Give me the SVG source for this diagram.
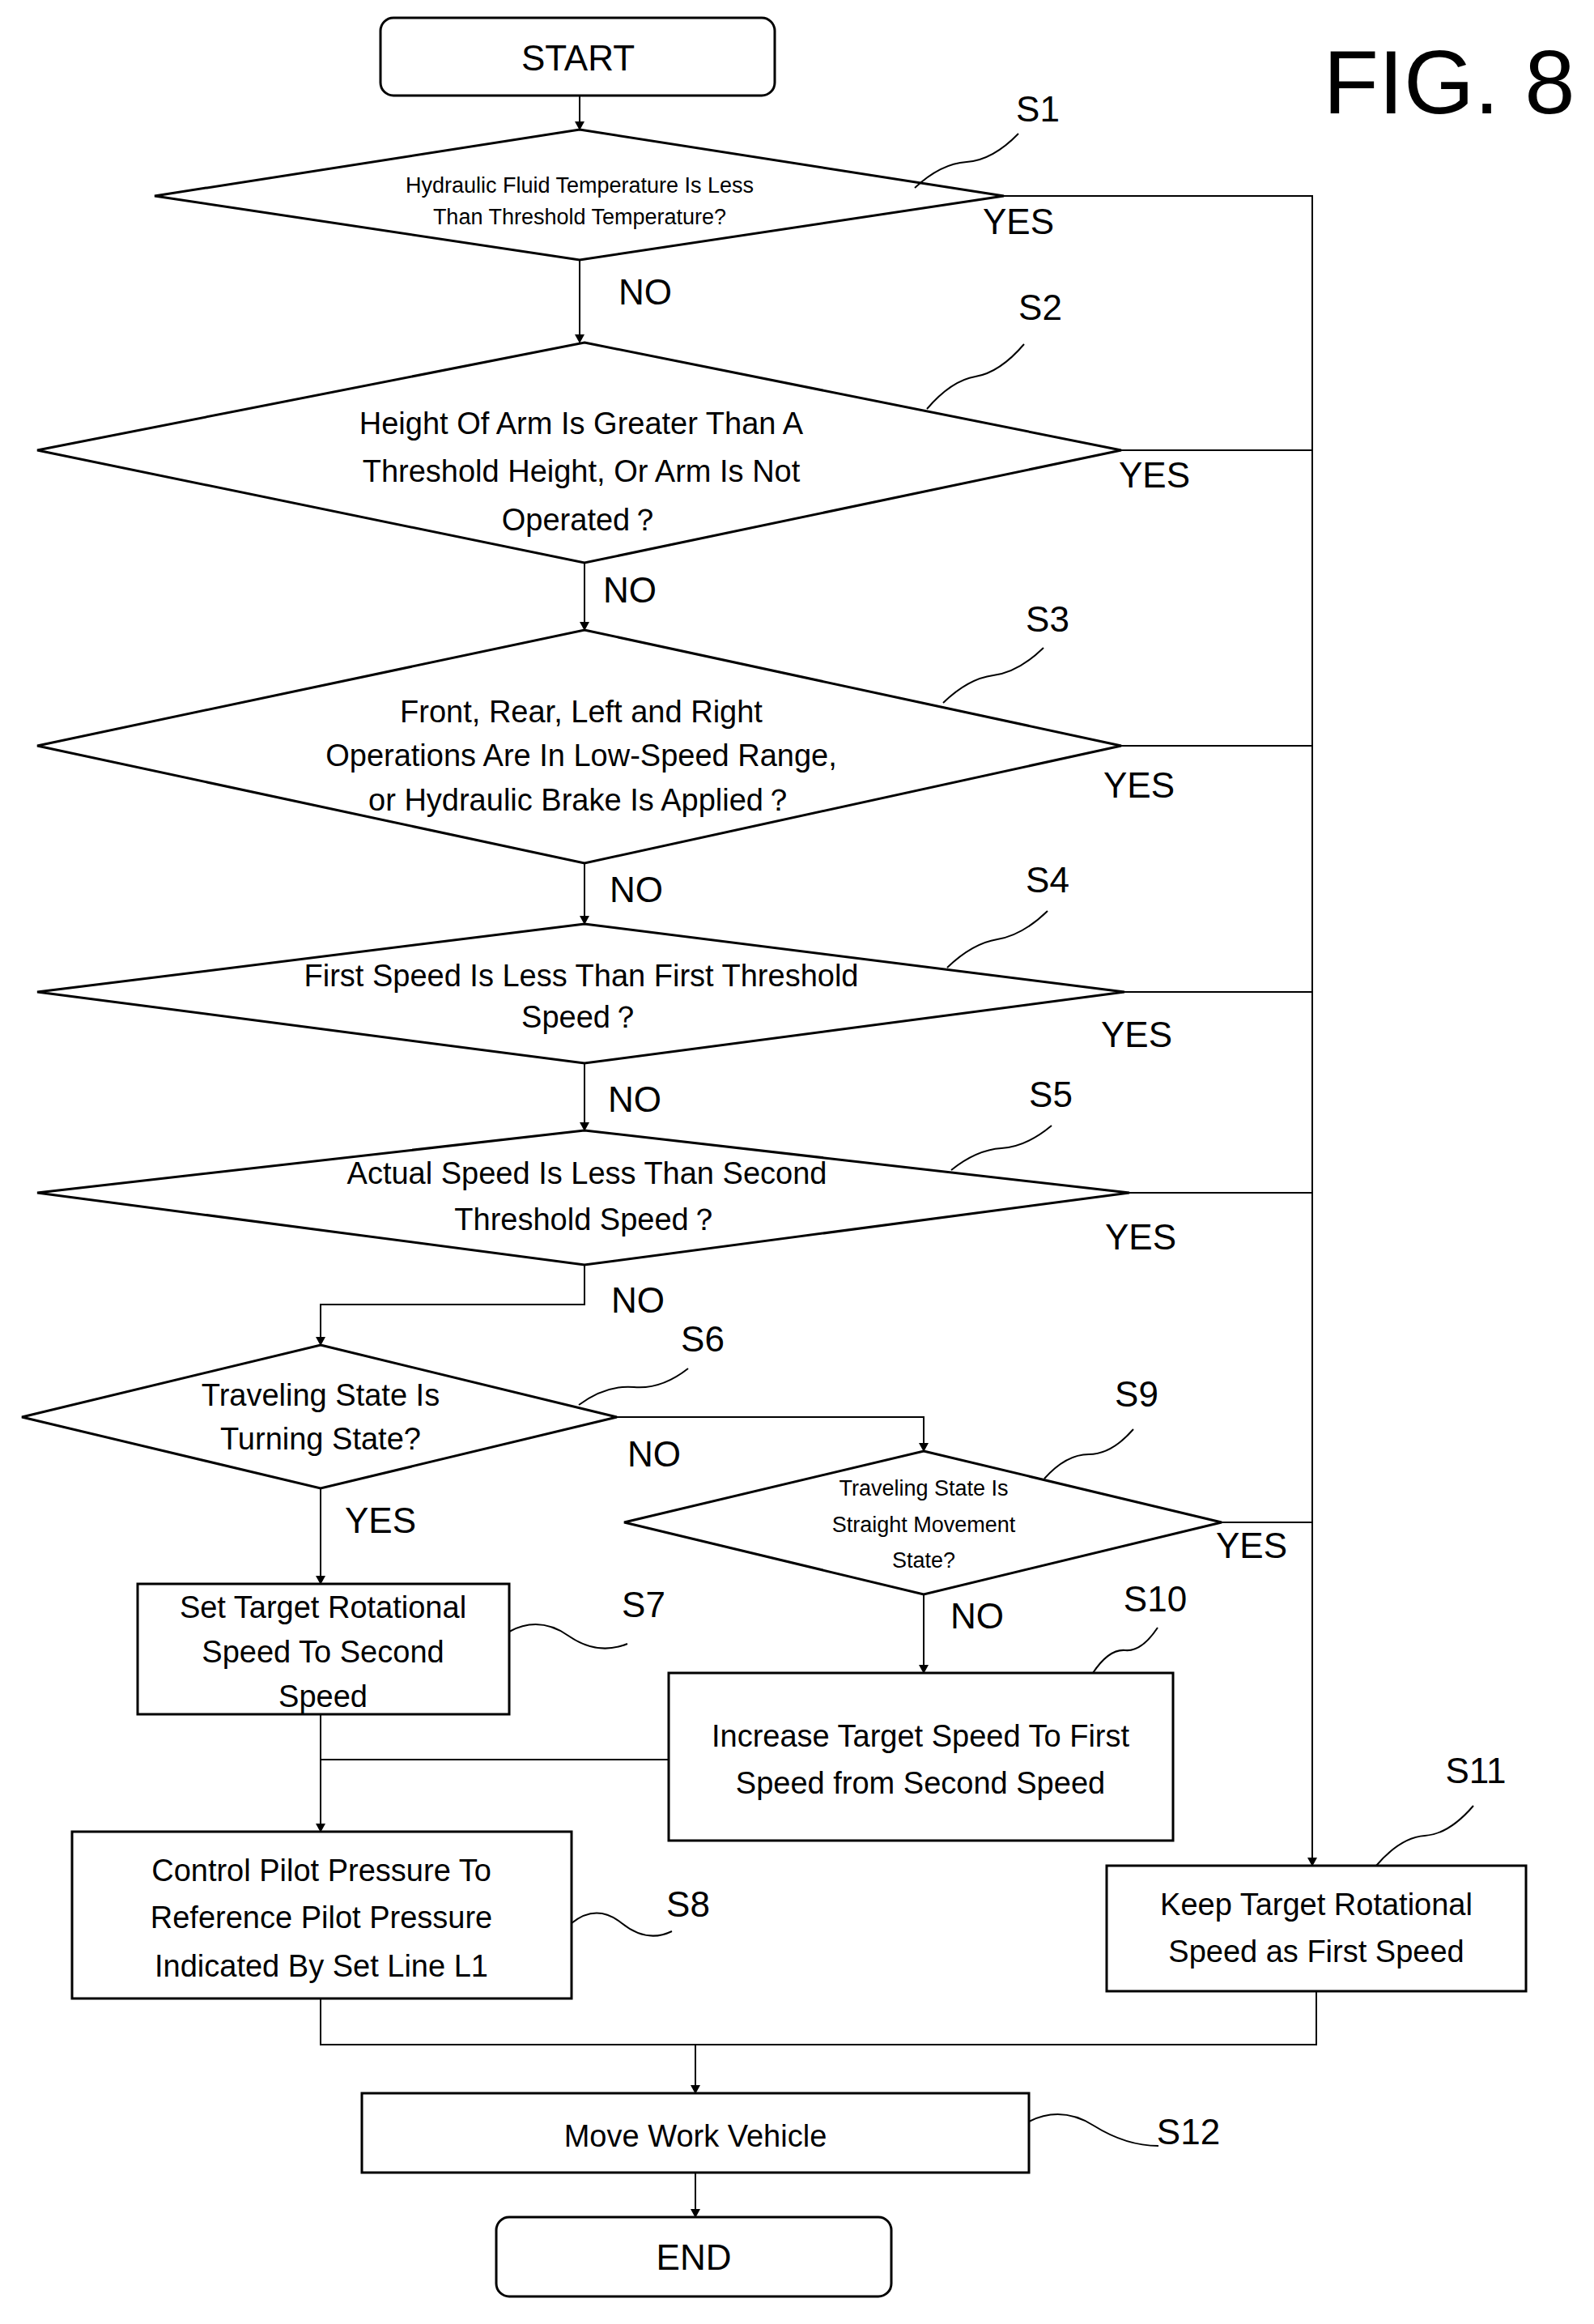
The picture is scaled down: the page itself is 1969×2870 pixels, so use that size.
<svg xmlns="http://www.w3.org/2000/svg" width="1969" height="2870" viewBox="0 0 1969 2870">
<defs>
<marker id="ah" markerWidth="12" markerHeight="12" refX="10" refY="6" orient="auto" markerUnits="userSpaceOnUse"><path d="M0,0 L11,6 L0,12 z" fill="#000"/></marker>
<style>
.s{fill:#fff;stroke:#000;stroke-width:3}
.c{fill:none;stroke:#000;stroke-width:2}
.w{fill:none;stroke:#000;stroke-width:2}
text{font-family:"Liberation Sans",Arial,sans-serif;fill:#000;text-anchor:middle}
.t{font-size:38px}
.ts{font-size:27px}
.l{font-size:44px}
.yn{font-size:44px}
</style>
</defs>
<rect width="1969" height="2870" fill="#fff"/>
<text x="1790" y="140" style="font-size:112px">FIG. 8</text>
<g id="start"><rect class="s" x="470" y="22" width="487" height="96" rx="16"/><text class="l" x="714" y="87">START</text></g>
<g id="s1"><polygon class="s" points="716,160 1240,242 716,321 191,242"/><text class="ts" x="716" y="238">Hydraulic Fluid Temperature Is Less</text><text class="ts" x="716" y="277">Than Threshold Temperature?</text><text class="l" x="1282" y="150">S1</text><path class="w" d="M1130,232 q32,-30 64,-32 t64,-35"/></g>
<g id="s2"><polygon class="s" points="722,423 1385,556 722,695 46,556"/><text class="t" x="718" y="536">Height Of Arm Is Greater Than A</text><text class="t" x="718" y="595">Threshold Height, Or Arm Is Not</text><text class="t" x="718" y="655">Operated？</text><text class="l" x="1285" y="395">S2</text><path class="w" d="M1145,505 q30,-35 60,-40 t60,-40"/></g>
<g id="s3"><polygon class="s" points="722,778 1385,921 722,1066 46,921"/><text class="t" x="718" y="892">Front, Rear, Left and Right</text><text class="t" x="718" y="946">Operations Are In Low-Speed Range,</text><text class="t" x="718" y="1001">or Hydraulic Brake Is Applied？</text><text class="l" x="1294" y="780">S3</text><path class="w" d="M1165,868 q31,-30 62,-34 t62,-34"/></g>
<g id="s4"><polygon class="s" points="722,1141 1389,1225 722,1313 46,1225"/><text class="t" x="718" y="1218">First Speed Is Less Than First Threshold</text><text class="t" x="718" y="1269">Speed？</text><text class="l" x="1294" y="1102">S4</text><path class="w" d="M1170,1195 q31,-30 62,-35 t62,-35"/></g>
<g id="s5"><polygon class="s" points="722,1396 1395,1473 722,1562 46,1473"/><text class="t" x="725" y="1462">Actual Speed Is Less Than Second</text><text class="t" x="725" y="1519">Threshold Speed？</text><text class="l" x="1298" y="1367">S5</text><path class="w" d="M1175,1445 q31,-25 62,-27 t62,-28"/></g>
<g id="s6"><polygon class="s" points="396,1661 762,1750 396,1838 27,1750"/><text class="t" x="396" y="1736">Traveling State Is</text><text class="t" x="396" y="1790">Turning State?</text><text class="l" x="868" y="1669">S6</text><path class="w" d="M715,1735 q34,-25 68,-22 t67,-23"/></g>
<g id="s9"><polygon class="s" points="1141,1792 1509,1880 1141,1969 771,1880"/><text class="ts" x="1141" y="1847">Traveling State Is</text><text class="ts" x="1141" y="1892">Straight Movement</text><text class="ts" x="1141" y="1936">State?</text><text class="l" x="1404" y="1737">S9</text><path class="w" d="M1290,1826 q27,-30 55,-30 t55,-31"/></g>
<g id="s7"><rect class="s" x="170" y="1956" width="459" height="161"/><text class="t" x="399" y="1998">Set Target Rotational</text><text class="t" x="399" y="2053">Speed To Second</text><text class="t" x="399" y="2108">Speed</text><text class="l" x="795" y="1997">S7</text><path class="w" d="M629,2015 q37,-20 73,5 t73,10"/></g>
<g id="s10"><rect class="s" x="826" y="2066" width="623" height="207"/><text class="t" x="1137" y="2157">Increase Target Speed To First</text><text class="t" x="1137" y="2215">Speed from Second Speed</text><text class="l" x="1427" y="1990">S10</text><path class="w" d="M1350,2066 q20,-30 40,-28 t40,-28"/></g>
<g id="s8"><rect class="s" x="89" y="2262" width="617" height="206"/><text class="t" x="397" y="2323">Control Pilot Pressure To</text><text class="t" x="397" y="2381">Reference Pilot Pressure</text><text class="t" x="397" y="2441">Indicated By Set Line L1</text><text class="l" x="850" y="2367">S8</text><path class="w" d="M706,2375 q31,-25 62,0 t62,10"/></g>
<g id="s11"><rect class="s" x="1367" y="2304" width="518" height="155"/><text class="t" x="1626" y="2365">Keep Target Rotational</text><text class="t" x="1626" y="2423">Speed as First Speed</text><text class="l" x="1823" y="2202">S11</text><path class="w" d="M1700,2304 q30,-35 60,-37 t60,-37"/></g>
<g id="s12"><rect class="s" x="447" y="2585" width="824" height="98"/><text class="t" x="859" y="2651">Move Work Vehicle</text><text class="l" x="1468" y="2648">S12</text><path class="w" d="M1271,2620 q40,-20 80,5 t80,25"/></g>
<g id="end"><rect class="s" x="613" y="2738" width="488" height="98" rx="16"/><text class="l" x="857" y="2803">END</text></g>
<g id="connectors">
<path class="c" d="M716,118 V160" marker-end="url(#ah)"/>
<path class="c" d="M716,321 V423" marker-end="url(#ah)"/>
<path class="c" d="M722,695 V778" marker-end="url(#ah)"/>
<path class="c" d="M722,1066 V1141" marker-end="url(#ah)"/>
<path class="c" d="M722,1313 V1396" marker-end="url(#ah)"/>
<path class="c" d="M722,1562 V1611 H396 V1661" marker-end="url(#ah)"/>
<path class="c" d="M762,1750 H1141 V1792" marker-end="url(#ah)"/>
<path class="c" d="M396,1838 V1956" marker-end="url(#ah)"/>
<path class="c" d="M1141,1969 V2066" marker-end="url(#ah)"/>
<path class="c" d="M396,2117 V2262" marker-end="url(#ah)"/>
<path class="c" d="M826,2173 H396"/>
<path class="c" d="M1240,242 H1621 V2304" marker-end="url(#ah)"/>
<path class="c" d="M1385,556 H1621 M1385,921 H1621 M1389,1225 H1621 M1395,1473 H1621 M1509,1880 H1621"/>
<path class="c" d="M396,2468 V2525 H1626 V2459"/>
<path class="c" d="M859,2525 V2585" marker-end="url(#ah)"/>
<path class="c" d="M859,2683 V2738" marker-end="url(#ah)"/>
<text class="yn" x="1258" y="289">YES</text><text class="yn" x="797" y="376">NO</text>
<text class="yn" x="1426" y="602">YES</text><text class="yn" x="778" y="744">NO</text>
<text class="yn" x="1407" y="985">YES</text><text class="yn" x="786" y="1114">NO</text>
<text class="yn" x="1404" y="1293">YES</text><text class="yn" x="784" y="1373">NO</text>
<text class="yn" x="1409" y="1543">YES</text><text class="yn" x="788" y="1621">NO</text>
<text class="yn" x="808" y="1811">NO</text><text class="yn" x="470" y="1893">YES</text>
<text class="yn" x="1546" y="1924">YES</text><text class="yn" x="1207" y="2011">NO</text>
</g>
</svg>
